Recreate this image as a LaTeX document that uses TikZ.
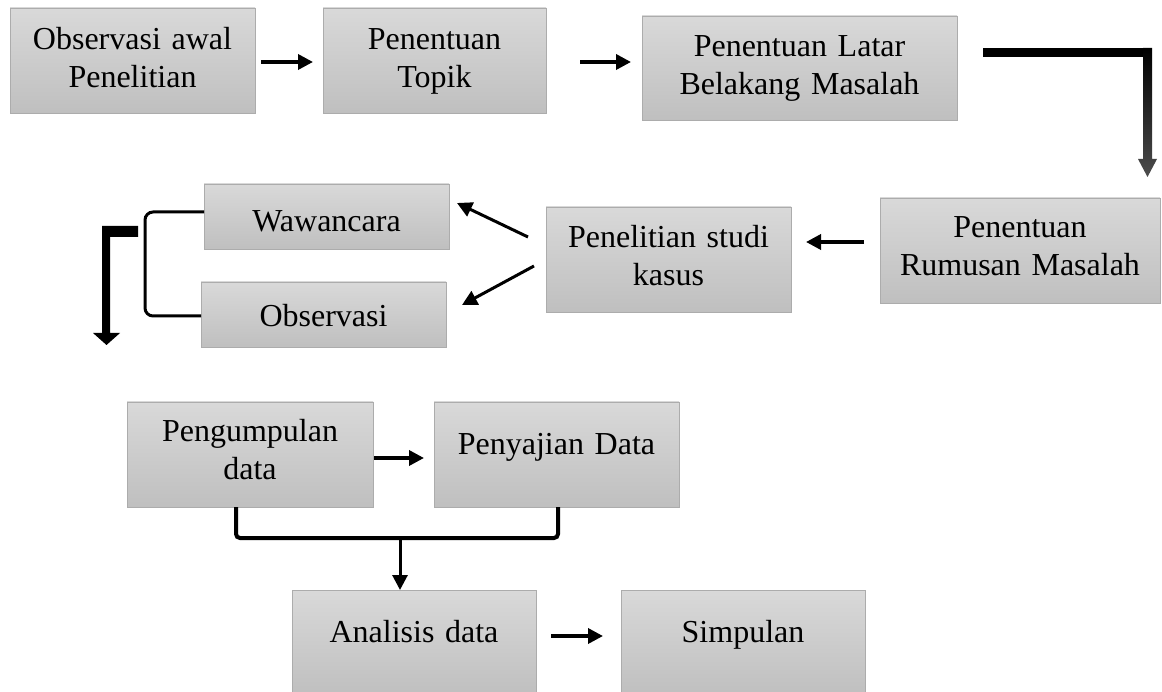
\documentclass[tikz,border=0pt]{standalone}
\usepackage{fontspec}
\setmainfont{Liberation Serif}
\usepackage{tikz}
\usetikzlibrary{arrows.meta}

\tikzset{
	kotak/.style={draw=gray!65,top color=gray!30,bottom color=gray!50,inner sep=0pt,outer sep=0pt,align=center,anchor=north west,font=\fontsize{32}{38}\selectfont},
	panah/.style={line width=3.5pt,-{Triangle[length=15pt,width=15pt]}},
	kurung/.style={line width=3pt,rounded corners=8pt}
}

\begin{document}
\begin{tikzpicture}[x=1pt,y=-1pt]
	\useasboundingbox (0,0) rectangle (1162,692);
	\clip (0,0) rectangle (1162,692);

	\node[kotak,text width=245pt,text height=42pt,text depth=63pt] (awal) at (10,8) {Observasi awal\\Penelitian};
	\node[kotak,text width=223pt,text height=42pt,text depth=63pt] (topik) at (323,8) {Penentuan\\Topik};
	\node[kotak,text width=315pt,text height=41pt,text depth=63pt] (latar) at (642,16) {Penentuan Latar\\Belakang Masalah};
	\node[kotak,text width=280pt,text height=40pt,text depth=65pt] (rumusan) at (880,198) {Penentuan\\Rumusan Masalah};
	\node[kotak,text width=245pt,text height=41pt,text depth=64pt] (studi) at (546,207) {Penelitian studi\\kasus};
	\node[kotak,text width=245pt,text height=48pt,text depth=17pt] (wawancara) at (204,184) {Wawancara};
	\node[kotak,text width=245pt,text height=45pt,text depth=20pt] (observasi) at (201,282) {Observasi};
	\node[kotak,text width=246pt,text height=40pt,text depth=65pt] (kumpul) at (127,402) {Pengumpulan\\data};
	\node[kotak,text width=245pt,text height=52pt,text depth=53pt] (saji) at (434,402) {Penyajian Data};
	\node[kotak,text width=244pt,text height=52pt,text depth=53pt] (analisis) at (292,590) {Analisis data};
	\node[kotak,text width=244pt,text height=52pt,text depth=53pt] (simpulan) at (621,590) {Simpulan};

	\draw[panah] ([xshift=6pt,yshift=-1.5pt]awal.east) -- ([xshift=-10pt,yshift=-1.5pt]topik.west);
	\draw[panah] ([xshift=34pt,yshift=-1.5pt]topik.east) -- ([xshift=-11pt,yshift=-1.5pt]topik.east -| latar.west);

	\fill (983,48) rectangle (1152,57);
	\shade[top color=black,bottom color=black!70] (1143,48) -- (1152,48) -- (1152,159) -- (1157,159)
		-- (1147.5,177) -- (1138,159) -- (1143,159) -- cycle;

	\draw[panah] ([xshift=-16pt,yshift=8.5pt]rumusan.west) -- ([xshift=15pt,yshift=17.5pt]studi.east);
	\draw[panah,line width=3pt] ([xshift=-18pt,yshift=22.5pt]studi.west) -- ([xshift=8pt,yshift=13.5pt]wawancara.east);
	\draw[panah,line width=3pt] ([xshift=-12pt,yshift=-6.5pt]studi.west) -- ([xshift=16pt,yshift=9.5pt]observasi.east);

	\draw[kurung] ([yshift=4.5pt]wawancara.west) -- ++(-59,0) |- ([yshift=-1.5pt]observasi.west);
	\fill (138,226) -- (102,226) -- (102,333) -- (93,333) -- (106.5,345) -- (120,333) -- (110,333)
		-- (110,237) -- (138,237) -- cycle;

	\draw[panah] ([xshift=1pt,yshift=-3.5pt]kumpul.east) -- ([xshift=-10pt,yshift=-3.5pt]saji.west);
	\draw[kurung,line width=4pt,rounded corners=4pt] ([xshift=109pt]kumpul.south west) -- ++(0,31) -| ([xshift=124pt]saji.south west);
	\coordinate (gabung) at (400,538);
	\draw[panah,line width=3pt] (gabung) -- (gabung |- analisis.north);
	\draw[panah] ([xshift=15pt,yshift=6.5pt]analisis.east) -- ([xshift=-18pt,yshift=6.5pt]simpulan.west);
\end{tikzpicture}
\end{document}
